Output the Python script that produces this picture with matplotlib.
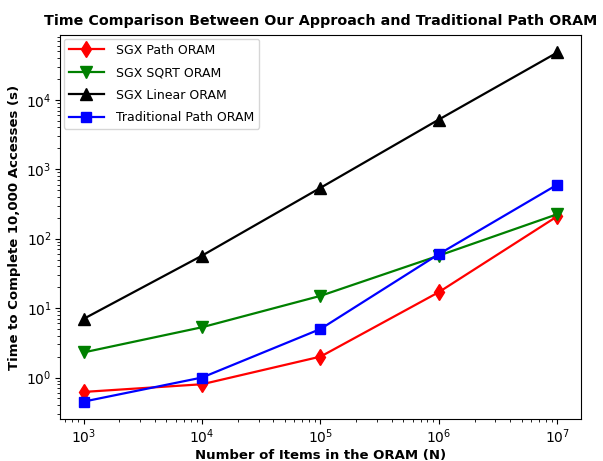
import matplotlib
matplotlib.use("Agg")
import matplotlib.pyplot as plt

plt.rcParams['mathtext.fontset'] = 'cm'
plt.rcParams['font.family'] = ['DejaVu Sans']

n_items = [1e3, 1e4, 1e5, 1e6, 1e7]
sgx_path = [0.62, 0.8, 2.0, 17, 210]
sgx_sqrt = [2.3, 5.3, 15, 57, 225]
sgx_linear = [7.0, 57, 540, 5200, 48000]
trad_path = [0.45, 1.0, 5.0, 60, 600]

fig = plt.figure(figsize=(6.03, 4.61), dpi=100)
ax = fig.add_axes([0.0995, 0.091, 0.864, 0.833])

ax.plot(n_items, sgx_path, color='red', marker='d', markersize=8, linewidth=1.6, label='SGX Path ORAM')
ax.plot(n_items, sgx_sqrt, color='green', marker='v', markersize=8, linewidth=1.6, label='SGX SQRT ORAM')
ax.plot(n_items, sgx_linear, color='black', marker='^', markersize=8, linewidth=1.6, label='SGX Linear ORAM')
ax.plot(n_items, trad_path, color='blue', marker='s', markersize=7, linewidth=1.6, label='Traditional Path ORAM')

ax.set_xscale('log')
ax.set_yscale('log')
ax.tick_params(labelsize=10, pad=2.5)
ax.set_title('Time Comparison Between Our Approach and Traditional Path ORAM',
             fontsize=10.3, fontweight='bold', pad=7)
ax.set_xlabel('Number of Items in the ORAM (N)', fontsize=9.5, fontweight='bold', labelpad=2)
ax.set_ylabel('Time to Complete 10,000 Accesses (s)', fontsize=9.5, fontweight='bold', labelpad=4)
ax.legend(loc='upper left', fontsize=9, handlelength=2.8, labelspacing=0.75,
          borderaxespad=0.3, handletextpad=1.0)

fig.savefig('out.png', dpi=100)
